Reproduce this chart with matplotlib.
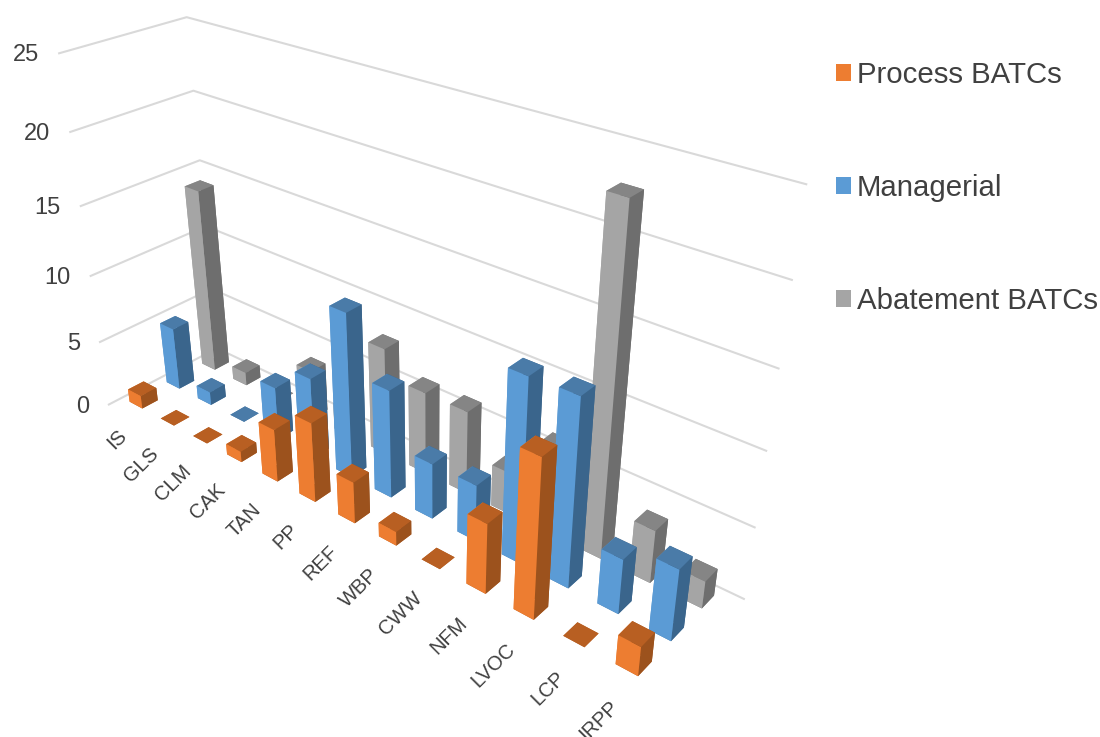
import matplotlib
matplotlib.use("Agg")
from matplotlib import pyplot as plt
from matplotlib.patches import Patch
from mpl_toolkits.mplot3d import proj3d

plt.rcParams['font.family'] = ['Liberation Sans', 'DejaVu Sans']

categories = ["IS", "GLS", "CLM", "CAK", "TAN", "PP", "REF", "WBP", "CWW", "NFM", "LVOC", "LCP", "IRPP"]
process = [1, 0, 0, 0.8, 3.9, 5.8, 3, 1, 0, 4.9, 10.8, 0, 2]
managerial = [4.8, 1, 0, 4, 6, 11.9, 7.8, 4, 4, 12.7, 12.8, 3.8, 4.9]
abatement = [14, 1, 0, 3.7, 2, 7.9, 6, 6, 3, 6.1, 22.8, 3.7, 1.9]
series_names = ["Process BATCs", "Managerial", "Abatement BATCs"]
value_ticks = [0, 5, 10, 15, 20, 25]

# front, top and side shades per series
front = ["#ED7D31", "#5B9BD5", "#A5A5A5"]
top = ["#B85F22", "#4A7BA8", "#858585"]
side = ["#9C521D", "#3A658C", "#6E6E6E"]

W, H = 1100, 737
side_px = 855.8
left_px, bottom_px = -8.5, -10.5

fig = plt.figure(figsize=(W / 100, H / 100), dpi=100)
ax = fig.add_axes([left_px / W, bottom_px / H, side_px / W, side_px / H], projection='3d')
ax.computed_zorder = False
ax.set_axis_off()

ncat = len(categories)
nser = len(series_names)
bar_w = 0.41
cat_pitch = 0.9933


def cat_center(i):
    return 0.45 + i * cat_pitch


def ser_center(j):
    return j + 0.55


# back to front so nearer bars paint over farther ones
all_series = [process, managerial, abatement]
order = 1
for i in range(ncat):
    for j in reversed(range(nser)):
        # bar3d face order: bottom, top, -y, +y, -x, +x
        colors = [top[j], top[j], front[j], side[j], front[j], side[j]]
        ax.bar3d(cat_center(i) - bar_w / 2, ser_center(j) - bar_w / 2, 0, bar_w, bar_w,
                 all_series[j][i], color=colors, shade=False, linewidth=0, zorder=order)
        order += 1

# limits are shifted so the camera's look-at point sits off the centre of the bars
ax.set_xlim(0.520, ncat + 0.520, view_margin=0)
ax.set_ylim(0.517, nser + 0.517, view_margin=0)
ax.set_zlim(0.407, 25.407, view_margin=0)
ax.set_box_aspect((0.579, 0.1336, 0.3344))
ax.set_proj_type('persp', focal_length=0.2795)
ax.view_init(elev=28.6, azim=-50.4, roll=0)

# walls: gridlines along the left side and the back side
for v in value_ticks:
    ax.plot([0, 0, ncat], [0, nser, nser], [v, v, v], color="#D9D9D9", lw=1.5,
            zorder=0, clip_on=False)

M = ax.get_proj()


def screen(x, y, z):
    px, py, _ = proj3d.proj_transform(x, y, z, M)
    return px, py


for v in value_ticks:
    ax.annotate(str(v), xy=screen(0, 0, v), xytext=(-20, -2), textcoords='offset pixels',
                ha='right', va='center', fontsize=17, color="#404040", annotation_clip=False)

for i, name in enumerate(categories):
    ax.annotate(name, xy=screen(cat_center(i), 0, 0), xytext=(1, -21), textcoords='offset pixels',
                ha='right', va='center', rotation=45, rotation_mode='anchor',
                fontsize=14.5, color="#404040", annotation_clip=False)

handles = [Patch(facecolor=c, edgecolor='none', label=n) for c, n in zip(front, series_names)]
fig.legend(handles=handles, loc='upper left', bbox_to_anchor=(821 / W, 1 - 46 / H),
           frameon=False, fontsize=21.2, labelspacing=2.89, handlelength=0.51,
           handleheight=0.51, handletextpad=0.2, borderpad=0, labelcolor="#404040")

fig.savefig("out.png", dpi=100)
